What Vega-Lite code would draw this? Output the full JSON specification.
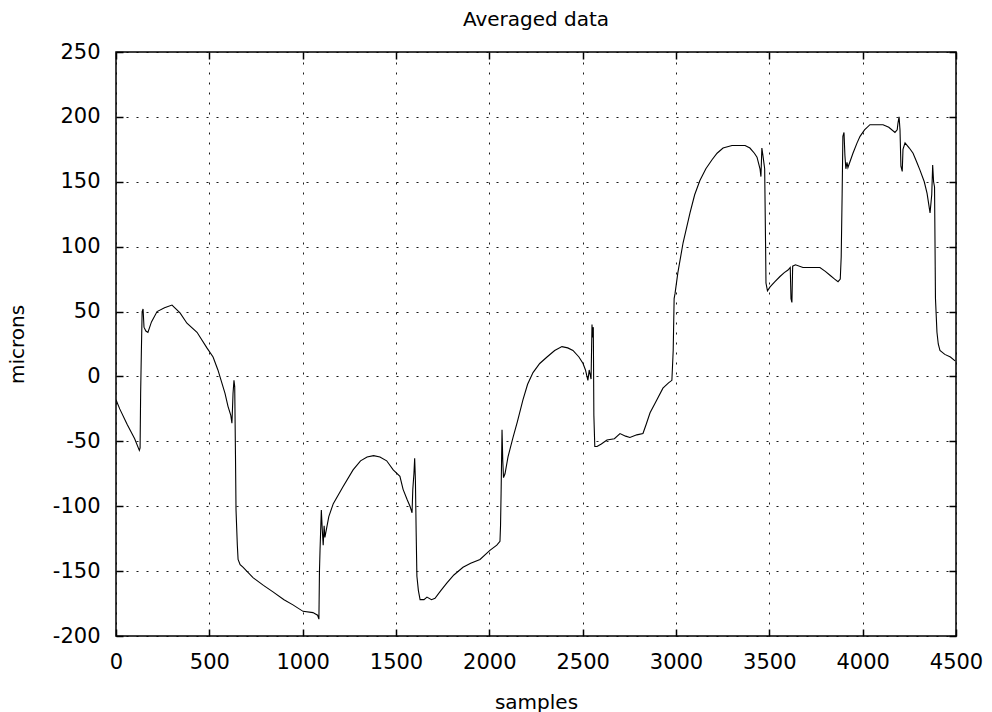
{
  "$schema": "https://vega.github.io/schema/vega-lite/v6.json",
  "width": 840,
  "height": 584,
  "autosize": {"type": "none"},
  "padding": {"left": 116, "top": 52, "right": 36, "bottom": 76},
  "background": "white",
  "title": {"text": "Averaged data", "font": "DejaVu Sans", "fontSize": 20, "fontWeight": "normal", "color": "black", "offset": 11},
  "config": {
    "view": {"stroke": "black", "strokeWidth": 1.5},
    "axis": {
      "labelFont": "DejaVu Sans", "labelFontSize": 21, "labelColor": "black", "labelFlush": false, "labelOverlap": false,
      "titleFont": "DejaVu Sans", "titleFontSize": 20, "titleFontWeight": "normal", "titleColor": "black",
      "domain": false,
      "tickColor": "black", "tickWidth": 1.5, "tickSize": -7,
      "gridColor": "black", "gridDash": [2, 8], "gridWidth": 1, "gridOpacity": 0.9
    }
  },
  "data": {"values": [
    {"sample":0,"microns":-18},{"sample":20,"microns":-25},{"sample":60,"microns":-37},{"sample":100,"microns":-48},{"sample":125,"microns":-57},{"sample":129,"microns":-55},{"sample":132,"microns":-13},{"sample":136,"microns":20},{"sample":140,"microns":50},{"sample":145,"microns":52},{"sample":150,"microns":38},{"sample":160,"microns":35},{"sample":171,"microns":34},{"sample":190,"microns":42},{"sample":220,"microns":50},{"sample":260,"microns":53},{"sample":300,"microns":55},{"sample":343,"microns":49},{"sample":380,"microns":41},{"sample":434,"microns":34},{"sample":487,"microns":22},{"sample":520,"microns":15},{"sample":546,"microns":5},{"sample":584,"microns":-13},{"sample":600,"microns":-23},{"sample":615,"microns":-30},{"sample":621,"microns":-36},{"sample":624,"microns":-25},{"sample":627,"microns":-13},{"sample":632,"microns":-3},{"sample":636,"microns":-8},{"sample":640,"microns":-60},{"sample":643,"microns":-103},{"sample":650,"microns":-130},{"sample":654,"microns":-141},{"sample":665,"microns":-145},{"sample":680,"microns":-147},{"sample":734,"microns":-155},{"sample":790,"microns":-161},{"sample":841,"microns":-166},{"sample":900,"microns":-172},{"sample":948,"microns":-176},{"sample":1002,"microns":-181},{"sample":1055,"microns":-182},{"sample":1080,"microns":-184},{"sample":1087,"microns":-187},{"sample":1090,"microns":-150},{"sample":1093,"microns":-134},{"sample":1100,"microns":-103},{"sample":1105,"microns":-118},{"sample":1110,"microns":-130},{"sample":1115,"microns":-115},{"sample":1119,"microns":-124},{"sample":1140,"microns":-108},{"sample":1164,"microns":-98},{"sample":1216,"microns":-85},{"sample":1270,"microns":-72},{"sample":1310,"microns":-65},{"sample":1345,"microns":-62},{"sample":1380,"microns":-61},{"sample":1414,"microns":-62},{"sample":1450,"microns":-65},{"sample":1485,"microns":-72},{"sample":1521,"microns":-77},{"sample":1538,"microns":-87},{"sample":1560,"microns":-95},{"sample":1575,"microns":-100},{"sample":1586,"microns":-105},{"sample":1590,"microns":-87},{"sample":1596,"microns":-75},{"sample":1600,"microns":-63},{"sample":1604,"microns":-80},{"sample":1608,"microns":-120},{"sample":1612,"microns":-154},{"sample":1620,"microns":-165},{"sample":1629,"microns":-172},{"sample":1650,"microns":-172},{"sample":1666,"microns":-170},{"sample":1690,"microns":-172},{"sample":1709,"microns":-171},{"sample":1740,"microns":-165},{"sample":1773,"microns":-159},{"sample":1810,"microns":-153},{"sample":1859,"microns":-147},{"sample":1900,"microns":-144},{"sample":1950,"microns":-141},{"sample":2003,"microns":-134},{"sample":2040,"microns":-130},{"sample":2057,"microns":-127},{"sample":2060,"microns":-115},{"sample":2063,"microns":-90},{"sample":2068,"microns":-41},{"sample":2072,"microns":-65},{"sample":2076,"microns":-78},{"sample":2084,"microns":-75},{"sample":2100,"microns":-62},{"sample":2127,"microns":-47},{"sample":2150,"microns":-35},{"sample":2180,"microns":-18},{"sample":2205,"microns":-6},{"sample":2234,"microns":3},{"sample":2270,"microns":10},{"sample":2309,"microns":15},{"sample":2350,"microns":20},{"sample":2389,"microns":23},{"sample":2420,"microns":22},{"sample":2448,"microns":20},{"sample":2480,"microns":15},{"sample":2502,"microns":10},{"sample":2515,"microns":5},{"sample":2523,"microns":0},{"sample":2528,"microns":-3},{"sample":2535,"microns":5},{"sample":2545,"microns":-2},{"sample":2550,"microns":40},{"sample":2553,"microns":30},{"sample":2557,"microns":38},{"sample":2560,"microns":-30},{"sample":2565,"microns":-54},{"sample":2577,"microns":-54},{"sample":2600,"microns":-52},{"sample":2630,"microns":-49},{"sample":2670,"microns":-48},{"sample":2700,"microns":-44},{"sample":2730,"microns":-46},{"sample":2753,"microns":-47},{"sample":2790,"microns":-45},{"sample":2823,"microns":-44},{"sample":2840,"microns":-37},{"sample":2861,"microns":-28},{"sample":2890,"microns":-20},{"sample":2930,"microns":-9},{"sample":2960,"microns":-5},{"sample":2978,"microns":-3},{"sample":2985,"microns":20},{"sample":2990,"microns":60},{"sample":2995,"microns":64},{"sample":3010,"microns":80},{"sample":3038,"microns":103},{"sample":3075,"microns":126},{"sample":3100,"microns":140},{"sample":3128,"microns":151},{"sample":3160,"microns":160},{"sample":3193,"microns":167},{"sample":3220,"microns":172},{"sample":3252,"microns":176},{"sample":3300,"microns":178},{"sample":3343,"microns":178},{"sample":3370,"microns":178},{"sample":3396,"microns":176},{"sample":3420,"microns":172},{"sample":3434,"microns":169},{"sample":3450,"microns":160},{"sample":3455,"microns":154},{"sample":3460,"microns":176},{"sample":3466,"microns":170},{"sample":3475,"microns":160},{"sample":3480,"microns":100},{"sample":3482,"microns":72},{"sample":3490,"microns":66},{"sample":3504,"microns":69},{"sample":3530,"microns":73},{"sample":3557,"microns":77},{"sample":3580,"microns":80},{"sample":3600,"microns":82},{"sample":3612,"microns":84},{"sample":3616,"microns":60},{"sample":3621,"microns":57},{"sample":3625,"microns":85},{"sample":3640,"microns":86},{"sample":3680,"microns":84},{"sample":3702,"microns":84},{"sample":3740,"microns":84},{"sample":3771,"microns":84},{"sample":3800,"microns":81},{"sample":3825,"microns":78},{"sample":3850,"microns":75},{"sample":3868,"microns":73},{"sample":3880,"microns":75},{"sample":3885,"microns":92},{"sample":3890,"microns":140},{"sample":3894,"microns":185},{"sample":3900,"microns":188},{"sample":3905,"microns":170},{"sample":3910,"microns":160},{"sample":3916,"microns":165},{"sample":3921,"microns":161},{"sample":3948,"microns":172},{"sample":3970,"microns":180},{"sample":3986,"microns":185},{"sample":4010,"microns":190},{"sample":4039,"microns":194},{"sample":4070,"microns":194},{"sample":4109,"microns":194},{"sample":4140,"microns":192},{"sample":4173,"microns":188},{"sample":4185,"microns":190},{"sample":4189,"microns":195},{"sample":4195,"microns":200},{"sample":4200,"microns":190},{"sample":4205,"microns":162},{"sample":4212,"microns":158},{"sample":4216,"microns":175},{"sample":4227,"microns":180},{"sample":4250,"microns":176},{"sample":4270,"microns":172},{"sample":4290,"microns":165},{"sample":4307,"microns":159},{"sample":4330,"microns":150},{"sample":4345,"microns":141},{"sample":4361,"microns":126},{"sample":4370,"microns":140},{"sample":4375,"microns":163},{"sample":4380,"microns":150},{"sample":4385,"microns":146},{"sample":4390,"microns":60},{"sample":4398,"microns":34},{"sample":4405,"microns":25},{"sample":4414,"microns":20},{"sample":4440,"microns":17},{"sample":4470,"microns":15},{"sample":4495,"microns":12}
  ]},
  "layer": [
    {
      "mark": {"type": "line", "color": "black", "strokeWidth": 1.1, "clip": true},
      "encoding": {
        "x": {"field": "sample", "type": "quantitative", "scale": {"domain": [0, 4500], "nice": false, "zero": false},
              "axis": {"orient": "bottom", "title": "samples", "values": [0,500,1000,1500,2000,2500,3000,3500,4000,4500], "labelExpr": "'' + datum.value", "labelPadding": 22, "titlePadding": 20, "grid": true}},
        "y": {"field": "microns", "type": "quantitative", "scale": {"domain": [-200, 250], "nice": false, "zero": false},
              "axis": {"orient": "left", "title": "microns", "values": [-200,-150,-100,-50,0,50,100,150,200,250], "labelExpr": "'' + datum.value", "labelPadding": 23, "titlePadding": 25, "grid": true}}
      }
    },
    {
      "mark": {"type": "line", "opacity": 0},
      "encoding": {
        "x": {"field": "sample", "type": "quantitative", "scale": {"domain": [0, 4500], "nice": false, "zero": false},
              "axis": {"orient": "top", "title": null, "labels": false, "grid": false, "values": [0,500,1000,1500,2000,2500,3000,3500,4000,4500]}},
        "y": {"field": "microns", "type": "quantitative", "scale": {"domain": [-200, 250], "nice": false, "zero": false},
              "axis": {"orient": "right", "title": null, "labels": false, "grid": false, "values": [-200,-150,-100,-50,0,50,100,150,200,250]}}
      }
    }
  ],
  "resolve": {"axis": {"x": "independent", "y": "independent"}}
}
